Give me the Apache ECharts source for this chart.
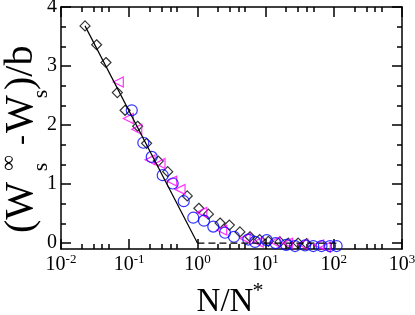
<!DOCTYPE html>
<html>
<head>
<meta charset="utf-8">
<script src="https://cdn.jsdelivr.net/npm/echarts@6/dist/echarts.min.js"></script>
<style>html,body{margin:0;padding:0;background:#fff}#c{width:415px;height:315px}</style>
</head>
<body>
<div id="c"></div>
<script>
// Tick values
const xMajorTicks = [0.01, 0.1, 1, 10, 100, 1000];
const xMinorTicks = [0.02, 0.03, 0.04, 0.05, 0.2, 0.3, 0.4, 0.5, 2, 3, 4, 5, 20, 30, 40, 50, 200, 300, 400, 500];
const yMajorTicks = [0, 1, 2, 3, 4];
const yMinorTicks = [0.333, 0.667, 1.333, 1.667, 2.333, 2.667, 3.333, 3.667];

// Series (x = N/N*, y = (Ws_inf - Ws)/b)
const diamonds = [
  [0.0225, 3.68], [0.0333, 3.36], [0.0457, 3.06], [0.067, 2.55], [0.087, 2.25],
  [0.133, 1.98], [0.18, 1.69], [0.267, 1.39], [0.367, 1.21], [0.71, 0.80],
  [1.05, 0.59], [1.45, 0.49], [2.15, 0.34], [2.94, 0.305], [4.2, 0.19],
  [5.9, 0.107], [8.2, 0.06], [11, 0.03], [16.2, 0.02], [21.5, 0.0], [30, 0.0], [40, -0.01]
];
const circles = [
  [0.109, 2.25], [0.161, 1.70], [0.214, 1.46], [0.31, 1.15], [0.434, 1.01],
  [0.63, 0.71], [0.87, 0.43], [1.25, 0.38], [1.71, 0.28], [2.54, 0.175],
  [3.44, 0.107], [5.57, 0.06], [7.0, 0.02], [10.4, 0.05], [14, 0.0],
  [20, -0.03], [27, -0.05], [38, -0.04], [50, -0.05], [66, -0.05], [88, -0.05], [110, -0.05]
];
const triangles = [
  [0.0692, 2.73], [0.097, 2.11], [0.129, 1.93], [0.202, 1.41], [0.283, 1.35],
  [0.42, 1.05], [0.556, 0.91], [1.16, 0.52], [2.27, 0.22], [5.0, 0.08],
  [7.8, 0.02], [13.7, 0.02], [21, 0.0], [35, -0.02], [60, -0.03], [75, -0.07]
];
const solidLine = [[0.0225, 3.68], [1, 0]];
const dashedLine = [[1, 0], [120, 0]];

const FONT = 'Liberation Serif';
const AX = '#000';

function xAxisDef(pos, ticks, len, showLine, showLabel) {
  return {
    type: 'log', logBase: 10, min: 0.01, max: 1000, position: pos,
    axisLine: { show: showLine, onZero: false, lineStyle: { color: AX, width: 1.5 } },
    axisTick: { show: true, inside: true, length: len, customValues: ticks, lineStyle: { color: AX, width: 1.5 } },
    axisLabel: {
      show: showLabel, customValues: ticks, margin: 4,
      formatter: function (v) { return '{b|10}{s|' + Math.round(Math.log10(v)) + '}'; },
      rich: {
        b: { fontFamily: FONT, fontSize: 20, color: '#000', lineHeight: 22, verticalAlign: 'bottom' },
        s: { fontFamily: FONT, fontSize: 13, color: '#000', lineHeight: 13, verticalAlign: 'top' }
      }
    },
    splitLine: { show: false }, minorTick: { show: false }
  };
}
function yAxisDef(pos, ticks, len, showLine, showLabel) {
  return {
    type: 'value', min: -0.1, max: 4, position: pos,
    axisLine: { show: showLine, onZero: false, lineStyle: { color: AX, width: 1.5 } },
    axisTick: { show: true, inside: true, length: len, customValues: ticks, lineStyle: { color: AX, width: 1.5 } },
    axisLabel: { show: showLabel, customValues: ticks, margin: 4, fontFamily: FONT, fontSize: 20, color: '#000' },
    splitLine: { show: false }, minorTick: { show: false }
  };
}

const chart = echarts.init(document.getElementById('c'), null, { renderer: 'canvas' });
chart.setOption({
  animation: false,
  backgroundColor: '#fff',
  grid: { left: 61, top: 7, right: 13, bottom: 66, containLabel: false, outerBoundsMode: 'none' },
  xAxis: [
    xAxisDef('bottom', xMajorTicks, 10, true, true),
    xAxisDef('bottom', xMinorTicks, 5, false, false),
    xAxisDef('top', xMajorTicks, 10, true, false),
    xAxisDef('top', xMinorTicks, 5, false, false)
  ],
  yAxis: [
    yAxisDef('left', yMajorTicks, 10, true, true),
    yAxisDef('left', yMinorTicks, 5, false, false),
    yAxisDef('right', yMajorTicks, 10, true, false),
    yAxisDef('right', yMinorTicks, 5, false, false)
  ],
  series: [
    { type: 'line', data: solidLine, symbol: 'none', lineStyle: { color: '#000', width: 1.2 }, silent: true },
    { type: 'line', data: dashedLine, symbol: 'none', lineStyle: { color: '#000', width: 1.2, type: [7, 4] }, silent: true },
    { type: 'scatter', data: diamonds, symbol: 'diamond', symbolSize: 10,
      itemStyle: { color: 'rgba(0,0,0,0)', borderColor: '#000', borderWidth: 1.2 } },
    { type: 'scatter', data: triangles, symbol: 'triangle', symbolSize: 10, symbolRotate: 90,
      itemStyle: { color: 'rgba(0,0,0,0)', borderColor: '#ff00ff', borderWidth: 1.2 } },
    { type: 'scatter', data: circles, symbol: 'circle', symbolSize: 11,
      itemStyle: { color: 'rgba(0,0,0,0)', borderColor: '#0000ff', borderWidth: 1.2 } }
  ],
  graphic: [
    { type: 'group', x: 21.5, y: 233, rotation: Math.PI / 2, children: [
      { type: 'text', x: 0, y: 0, style: { text: '(W', font: '40px "Liberation Serif"', fill: '#000', align: 'left', verticalAlign: 'middle' } },
      { type: 'text', x: 70, y: -12, style: { text: '∞', font: '22px "Liberation Serif"', fill: '#000', align: 'center', verticalAlign: 'middle' } },
      { type: 'text', x: 66, y: 20, style: { text: 's', font: '22px "Liberation Serif"', fill: '#000', align: 'center', verticalAlign: 'middle' } },
      { type: 'text', x: 93, y: 1, style: { text: '-', font: '30px "Liberation Serif"', fill: '#000', align: 'center', verticalAlign: 'middle' } },
      { type: 'text', x: 100, y: 0, style: { text: 'W', font: '40px "Liberation Serif"', fill: '#000', align: 'left', verticalAlign: 'middle' } },
      { type: 'text', x: 139, y: 20, style: { text: 's', font: '22px "Liberation Serif"', fill: '#000', align: 'center', verticalAlign: 'middle' } },
      { type: 'text', x: 143, y: 0, style: { text: ')/b', font: '40px "Liberation Serif"', fill: '#000', align: 'left', verticalAlign: 'middle' } }
    ]},
    { type: 'text', x: 225, y: 302, style: { text: 'N/N', font: '33px "Liberation Serif"', fill: '#000', align: 'center', verticalAlign: 'middle' } },
    { type: 'text', x: 258, y: 291, style: { text: '*', font: '22px "Liberation Serif"', fill: '#000', align: 'center', verticalAlign: 'middle' } }
  ]
});
</script>
</body>
</html>
